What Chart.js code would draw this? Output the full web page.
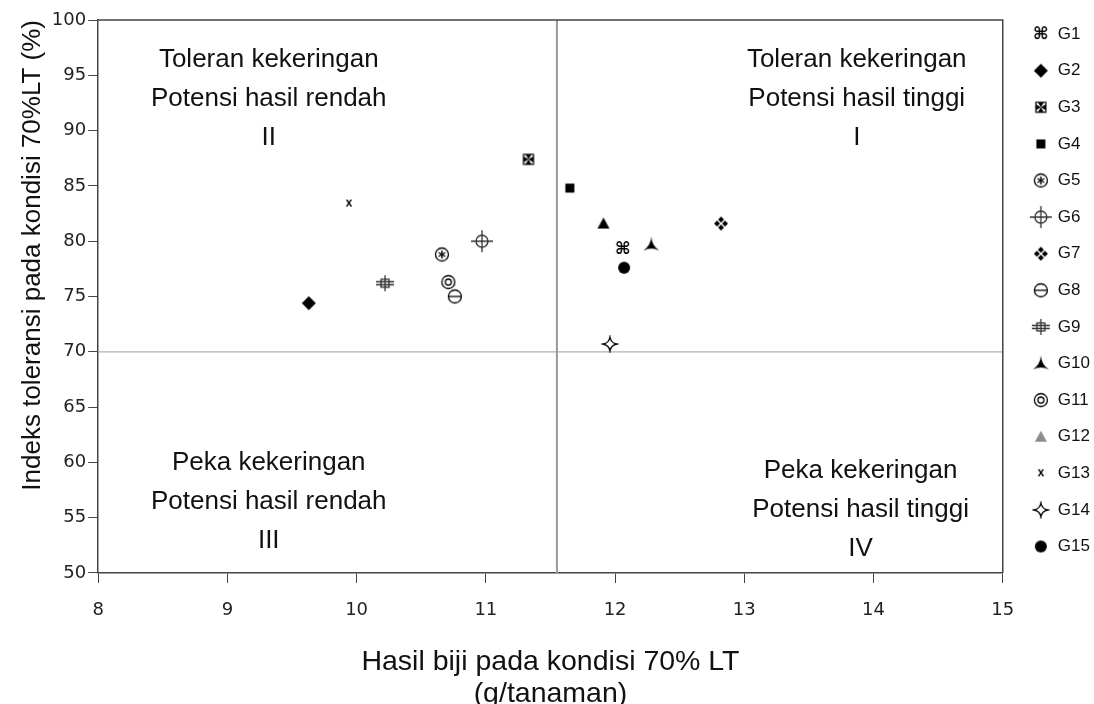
<!DOCTYPE html>
<html>
<head>
<meta charset="utf-8">
<script src="https://cdn.jsdelivr.net/npm/chart.js@4.4.1/dist/chart.umd.min.js"></script>
<style>
  html, body { margin: 0; padding: 0; background: #fff; }
  #wrap { width: 1094px; height: 704px; }
</style>
</head>
<body>
<div id="wrap"><canvas id="chart"></canvas></div>
<script>
// genotype data
const groups = ['G1', 'G2', 'G3', 'G4', 'G5', 'G6', 'G7', 'G8', 'G9', 'G10', 'G11', 'G12', 'G13', 'G14', 'G15'];
const yieldValues = [12.06, 9.63, 11.33, 11.65, 10.66, 10.97, 12.82, 10.76, 10.22, 12.28, 10.71, 11.91, 9.94, 11.96, 12.07];
const toleranceValues = [79.3, 74.4, 87.4, 84.8, 78.8, 80.0, 81.6, 75.0, 76.2, 79.7, 76.3, 81.6, 83.4, 70.7, 77.6];

// quadrant dividers
const meanYield = 11.55;
const toleranceCut = 70;

const xTicks = [8, 9, 10, 11, 12, 13, 14, 15];
const yTicks = [50, 55, 60, 65, 70, 75, 80, 85, 90, 95, 100];

const quadrantText = [
    { lines: ['Toleran kekeringan', 'Potensi hasil rendah', 'II'], x: 9.32, y: 96.4 },
    { lines: ['Toleran kekeringan', 'Potensi hasil tinggi', 'I'], x: 13.87, y: 96.4 },
    { lines: ['Peka kekeringan', 'Potensi hasil rendah', 'III'], x: 9.32, y: 59.95 },
    { lines: ['Peka kekeringan', 'Potensi hasil tinggi', 'IV'], x: 13.9, y: 59.25 },
];

function marker(size, draw) {
    const c = document.createElement('canvas');
    c.width = size;
    c.height = size;
    const g = c.getContext('2d');
    g.translate(size / 2, size / 2);
    g.fillStyle = '#000';
    g.strokeStyle = '#000';
    g.lineWidth = 1.3;
    draw(g);
    return c;
}

function circle(g, r) {
    g.beginPath();
    g.arc(0, 0, r, 0, Math.PI * 2);
    g.stroke();
}

const markers = [
    // G1 place-of-interest sign
    marker(20, g => {
        g.font = 'bold 17px "DejaVu Sans"';
        g.textAlign = 'center';
        g.textBaseline = 'middle';
        g.fillText('\u2318', 0, 1);
    }),
    // G2 diamond
    marker(18, g => {
        g.beginPath();
        g.moveTo(0, -7); g.lineTo(7, 0); g.lineTo(0, 7); g.lineTo(-7, 0);
        g.closePath(); g.fill();
    }),
    // G3 cross in a box
    marker(14, g => {
        g.lineWidth = 1.2;
        g.strokeRect(-5, -5, 10, 10);
        const t = [[-3, -5, 3, -5], [-3, 5, 3, 5], [-5, -3, -5, 3], [5, -3, 5, 3]];
        t.forEach(p => {
            g.beginPath();
            g.moveTo(p[0], p[1]); g.lineTo(p[2], p[3]); g.lineTo(0, 0);
            g.closePath(); g.fill();
        });
    }),
    // G4 square
    marker(12, g => { g.fillRect(-4.5, -4.5, 9, 9); }),
    // G5 circled asterisk
    marker(18, g => {
        circle(g, 6.5);
        g.lineWidth = 1.4;
        for (let i = 0; i < 3; i++) {
            const a = i * Math.PI / 3 + Math.PI / 2;
            g.beginPath();
            g.moveTo(Math.cos(a) * 4, Math.sin(a) * 4);
            g.lineTo(-Math.cos(a) * 4, -Math.sin(a) * 4);
            g.stroke();
        }
    }),
    // G6 circle with crosshair
    marker(24, g => {
        g.strokeStyle = '#333';
        circle(g, 6);
        g.beginPath();
        g.moveTo(-11, 0); g.lineTo(11, 0);
        g.moveTo(0, -11); g.lineTo(0, 11);
        g.stroke();
    }),
    // G7 four diamonds
    marker(16, g => {
        [[0, -4], [4, 0], [0, 4], [-4, 0]].forEach(p => {
            g.beginPath();
            g.moveTo(p[0], p[1] - 3); g.lineTo(p[0] + 3, p[1]);
            g.lineTo(p[0], p[1] + 3); g.lineTo(p[0] - 3, p[1]);
            g.closePath(); g.fill();
        });
    }),
    // G8 circled minus
    marker(18, g => {
        circle(g, 6.5);
        g.beginPath();
        g.moveTo(-6, 0); g.lineTo(6, 0);
        g.stroke();
    }),
    // G9 double bar cross
    marker(20, g => {
        g.strokeStyle = '#333';
        g.beginPath();
        g.moveTo(-9, -1.5); g.lineTo(9, -1.5);
        g.moveTo(-9, 1.5); g.lineTo(9, 1.5);
        g.moveTo(0, -8); g.lineTo(0, 8);
        g.stroke();
        g.strokeRect(-4, -4, 8, 8);
    }),
    // G10 three pointed star
    marker(18, g => {
        g.beginPath();
        g.moveTo(0, -8);
        g.quadraticCurveTo(0.5, 1, 8, 6);
        g.quadraticCurveTo(0, 2, -8, 6);
        g.quadraticCurveTo(-0.5, 1, 0, -8);
        g.closePath(); g.fill();
    }),
    // G11 concentric circles
    marker(18, g => {
        circle(g, 6.5);
        circle(g, 3);
    }),
    // G12 triangle
    marker(16, g => {
        g.beginPath();
        g.moveTo(0, -6); g.lineTo(6, 5); g.lineTo(-6, 5);
        g.closePath(); g.fill();
    }),
    // G13 small x
    marker(14, g => {
        g.font = 'bold 12px "Liberation Sans"';
        g.textAlign = 'center';
        g.textBaseline = 'middle';
        g.fillText('x', 0, 0);
    }),
    // G14 four pointed star outline
    marker(18, g => {
        g.beginPath();
        g.moveTo(0, -7);
        g.quadraticCurveTo(1, -1, 7, 0);
        g.quadraticCurveTo(1, 1, 0, 7);
        g.quadraticCurveTo(-1, 1, -7, 0);
        g.quadraticCurveTo(-1, -1, 0, -7);
        g.closePath(); g.stroke();
    }),
    // G15 dot
    marker(18, g => {
        g.beginPath();
        g.arc(0, 0, 6, 0, Math.PI * 2);
        g.fill();
    }),
];

// grey triangle for the G12 legend entry
const legendTriangle = marker(16, g => {
    g.fillStyle = '#8c8c8c';
    g.beginPath();
    g.moveTo(0, -6); g.lineTo(6, 5); g.lineTo(-6, 5);
    g.closePath(); g.fill();
});

const datasets = groups.map((name, i) => ({
    type: 'scatter',
    label: name,
    data: [{ x: yieldValues[i], y: toleranceValues[i] }],
    pointStyle: markers[i],
    backgroundColor: '#000',
    borderColor: '#000',
}));

datasets.push({
    type: 'line',
    label: 'meanYield',
    data: [{ x: meanYield, y: 50 }, { x: meanYield, y: 100 }],
    borderColor: '#9a9a9a',
    borderWidth: 2,
    pointRadius: 0,
});
datasets.push({
    type: 'line',
    label: 'toleranceCut',
    data: [{ x: 8, y: toleranceCut }, { x: 15, y: toleranceCut }],
    borderColor: '#b0b0b0',
    borderWidth: 1.2,
    pointRadius: 0,
});

const frameAndText = {
    id: 'frameAndText',
    afterLayout(chart) {
        // nudge the legend a little to the right, like the original
        chart.legend.left += 10;
        chart.legend.right += 10;
    },
    beforeDatasetsDraw(chart) {
        const { ctx, scales } = chart;
        ctx.save();
        ctx.fillStyle = '#111';
        ctx.font = '26px "Liberation Sans"';
        ctx.textAlign = 'center';
        ctx.textBaseline = 'middle';
        quadrantText.forEach(q => {
            const px = scales.x.getPixelForValue(q.x);
            const py = scales.y.getPixelForValue(q.y);
            q.lines.forEach((t, k) => ctx.fillText(t, px, py + k * 39));
        });
        ctx.restore();
    },
    afterDraw(chart) {
        const { ctx, chartArea } = chart;
        ctx.save();
        ctx.strokeStyle = '#444';
        ctx.lineWidth = 1.5;
        ctx.beginPath();
        ctx.moveTo(chartArea.left, chartArea.top);
        ctx.lineTo(chartArea.right, chartArea.top);
        ctx.lineTo(chartArea.right, chartArea.bottom);
        ctx.stroke();
        ctx.restore();
    }
};

new Chart(document.getElementById('chart'), {
    data: { datasets: datasets },
    options: {
        responsive: true,
        maintainAspectRatio: false,
        animation: false,
        layout: { padding: { top: 6, right: 4, left: 17, bottom: 0 } },
        plugins: {
            tooltip: { enabled: false },
            title: {
                display: true,
                text: ' ',
                font: { size: 1, lineHeight: 1 },
                padding: { top: 0, bottom: 13 }
            },
            legend: {
                position: 'right',
                align: 'start',
                labels: {
                    usePointStyle: true,
                    color: '#111',
                    font: { family: 'Liberation Sans', size: 17 },
                    padding: 19.6,
                    filter: item => item.datasetIndex < groups.length,
                    generateLabels(chart) {
                        const items = Chart.defaults.plugins.legend.labels.generateLabels(chart);
                        items.forEach(it => {
                            if (it.datasetIndex === 11) it.pointStyle = legendTriangle;
                        });
                        return items;
                    }
                }
            }
        },
        scales: {
            x: {
                type: 'linear',
                min: 8,
                max: 15,
                afterBuildTicks: axis => { axis.ticks = xTicks.map(v => ({ value: v })); },
                border: { color: '#444', width: 1.5 },
                grid: { drawOnChartArea: false, drawTicks: true, tickLength: 10, color: '#444' },
                ticks: { color: '#222', font: { family: 'DejaVu Sans', size: 18 }, padding: 17 },
                title: {
                    display: true,
                    text: ['Hasil biji pada kondisi 70% LT', '(g/tanaman)'],
                    color: '#111',
                    font: { family: 'Liberation Sans', size: 28.5, lineHeight: 1.13 },
                    padding: { top: 7, bottom: -6 }
                }
            },
            y: {
                type: 'linear',
                min: 50,
                max: 100,
                afterBuildTicks: axis => { axis.ticks = yTicks.map(v => ({ value: v })); },
                border: { color: '#444', width: 1.5 },
                grid: { drawOnChartArea: false, drawTicks: true, tickLength: 10, color: '#444' },
                ticks: { color: '#222', font: { family: 'DejaVu Sans', size: 18 }, padding: 2 },
                title: {
                    display: true,
                    align: 'end',
                    text: 'Indeks toleransi pada kondisi 70%LT (%)',
                    color: '#111',
                    font: { family: 'Liberation Sans', size: 26 },
                    padding: { top: 0, bottom: 1.6 }
                }
            }
        }
    },
    plugins: [frameAndText]
});
</script>
</body>
</html>
